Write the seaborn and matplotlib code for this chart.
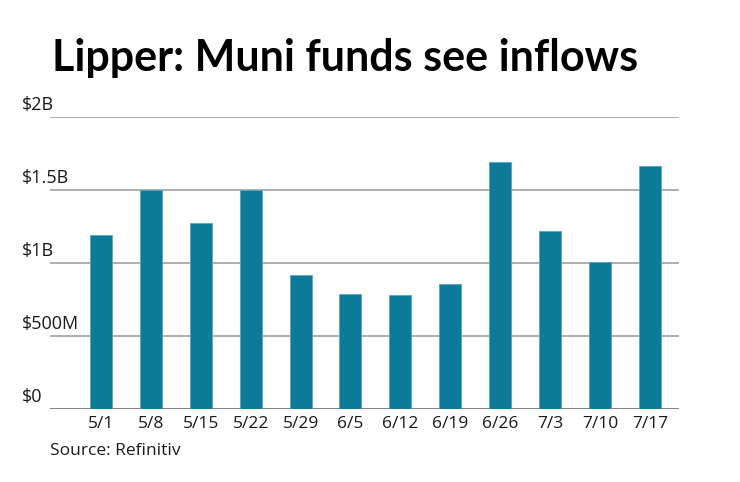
import numpy as np
import pandas as pd
import seaborn as sns
import matplotlib.pyplot as plt
from matplotlib.transforms import blended_transform_factory

# values (billions of dollars)
weeks = ['5/1', '5/8', '5/15', '5/22', '5/29', '6/5', '6/12', '6/19', '6/26', '7/3', '7/10', '7/17']
flows = [1.19, 1.50, 1.27, 1.50, 0.92, 0.79, 0.78, 0.856, 1.687, 1.218, 1.008, 1.664]
y_ticks = [0, 0.5, 1.0, 1.5, 2.0]
y_labels = ['$0', '$500M', '$1B', '$1.5B', '$2B']

title = 'Lipper: Muni funds see inflows'
source = 'Source: Refinitiv'

bar_color = '#0d7a99'
text_color = '#1a1a1a'
label_font = ['Open Sans', 'DejaVu Sans']

sns.set_theme(style='white')
plt.rcParams['font.family'] = ['Lato', 'DejaVu Sans']

df = pd.DataFrame({'week': weeks, 'flow': flows})

fig = plt.figure(figsize=(7.4, 4.82), dpi=100)
ax = fig.add_axes([50 / 740, 1 - 409.3 / 482, (679.3 - 50) / 740, (409.3 - 116.7) / 482])

sns.barplot(data=df, x='week', y='flow', color=bar_color, saturation=1,
            width=0.44, edgecolor='#5aa6bd', linewidth=0.6, ax=ax, zorder=3)

ax.set_ylim(0, 2.0)
ax.set_xlim(-1.02, 11.59)

# horizontal gridlines
for t in y_ticks:
    ax.axhline(t, color='#777777' if t == 0 else '#a8a8a8', lw=1.3, zorder=1)

# y labels sit above the gridlines, at the left edge of the figure
trans = blended_transform_factory(fig.transFigure, ax.transData)
for t, lab in zip(y_ticks, y_labels):
    ax.text(22 / 740, t + 0.02, lab, transform=trans, ha='left', va='bottom',
            fontsize=13, color=text_color, family=label_font)

ax.set_yticks([])
ax.set_xlabel('')
ax.set_ylabel('')
ax.tick_params(axis='x', length=0, pad=5)
for lab in ax.get_xticklabels():
    lab.set_fontfamily(label_font)
    lab.set_fontsize(12.5)
    lab.set_color(text_color)
sns.despine(ax=ax, left=True, bottom=True)

fig.text(52 / 740, 1 - 58 / 482, title, fontsize=31, fontweight='bold',
         color='black', ha='left', va='center')
fig.text(50 / 740, 1 - 451 / 482, source, fontsize=12.5, color=text_color,
         ha='left', va='center', family=label_font)

fig.savefig('out.png', dpi=100)
